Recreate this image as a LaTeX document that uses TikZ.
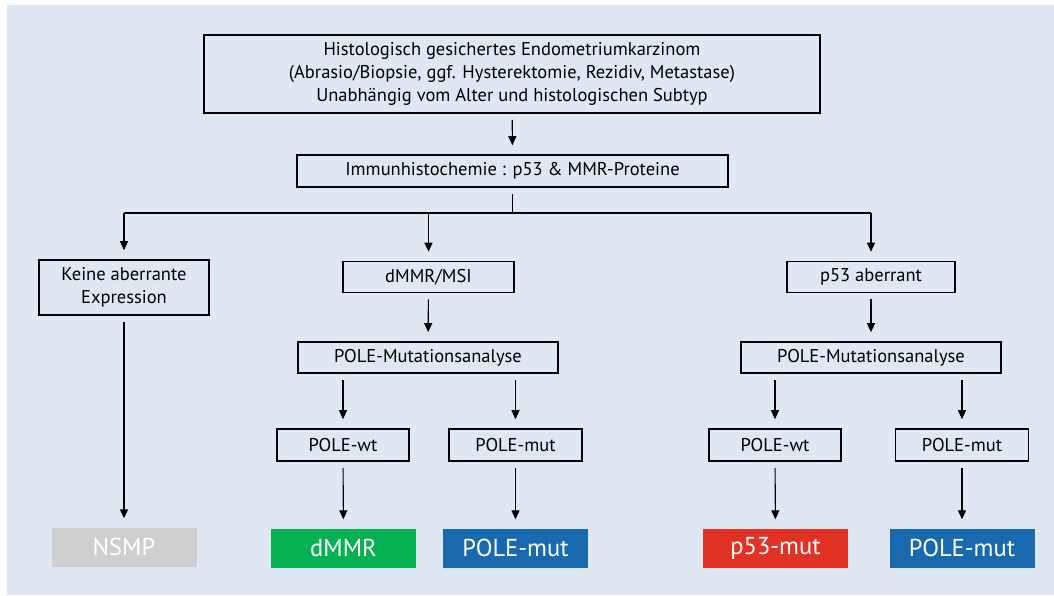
\documentclass[tikz,border=0pt]{standalone}
\usepackage{fontspec}
\setmainfont{PT Sans}
\usetikzlibrary{arrows.meta}
\definecolor{bgblue}{HTML}{DFE8F2}
\definecolor{resgreen}{HTML}{05B152}
\definecolor{resblue}{HTML}{1869AD}
\definecolor{resred}{HTML}{E03325}
\definecolor{resgrey}{HTML}{CFCFCF}
\tikzset{
  box/.style={draw=black, line width=1.6pt, inner sep=0pt, align=center,
    font=\fontsize{18.5}{23}\selectfont},
  result/.style={inner sep=0pt, minimum width=145pt, minimum height=39pt,
    text=white, font=\fontsize{24.5}{26}\selectfont},
  conn/.style={line width=1.1pt, shorten <=6pt},
  arr/.style={conn, -{Triangle[width=8pt,length=9pt]}, shorten >=9pt},
}
\begin{document}
\begin{tikzpicture}[x=1pt, y=-1pt]
  \useasboundingbox (0,0) rectangle (1054,595);
  \fill[white] (0,0) rectangle (1054,595);
  \fill[bgblue] (7,5) rectangle (1054,595);
  % boxes
  \node[box, minimum width=616pt, minimum height=78pt] (top) at (512,74)
    {Histologisch gesichertes Endometriumkarzinom\\
     (Abrasio/Biopsie, ggf. Hysterektomie, Rezidiv, Metastase)\\
     Unabhängig vom Alter und histologischen Subtyp};
  \node[box, minimum width=431pt, minimum height=32pt] (ihc) at (512.5,171)
    {Immunhistochemie : p53 \& MMR-Proteine};
  \node[box, minimum width=170pt, minimum height=55pt] (kae) at (124,287.5)
    {Keine aberrante\\Expression};
  \node[box, minimum width=171pt, minimum height=31pt] (msi) at (428.5,277) {dMMR/MSI};
  \node[box, minimum width=168pt, minimum height=31pt] (p53) at (871,277) {p53 aberrant};
  \node[box, minimum width=260pt, minimum height=31pt] (polel) at (428,357.5) {POLE-Mutationsanalyse};
  \node[box, minimum width=260pt, minimum height=31pt] (poler) at (871,357.5) {POLE-Mutationsanalyse};
  \node[box, minimum width=132pt, minimum height=32pt] (wtl) at (343,445) {POLE-wt};
  \node[box, minimum width=133pt, minimum height=32pt] (mutl) at (515.5,445) {POLE-mut};
  \node[box, minimum width=132pt, minimum height=32pt] (wtr) at (775,445) {POLE-wt};
  \node[box, minimum width=133pt, minimum height=32pt] (mutr) at (962,445) {POLE-mut};
  % results
  \node[result, fill=resgrey] (nsmp) at (124,547) {NSMP};
  \node[result, fill=resgreen] (dmmr) at (343.5,548) {dMMR};
  \node[result, fill=resblue] (polemutl) at (515.5,548) {POLE-mut};
  \node[result, fill=resred] (p53mut) at (775.5,548) {p53-mut};
  \node[result, fill=resblue] (polemutr) at (962,548) {POLE-mut};
  \coordinate (split) at (512.5,213);
  \begin{scope}[-]
    \draw[arr] (top) -- (ihc);
    \draw[conn] (ihc) -- (split);
    \draw[line width=1.1pt] (split -| kae) -- (split -| p53);
    \draw[arr, shorten <=0pt] (split -| kae) -- (kae);
    \draw[arr, shorten <=0pt] (split -| msi) -- (msi);
    \draw[arr, shorten <=0pt] (split -| p53) -- (p53);
    \draw[arr] (kae) -- (nsmp);
    \draw[arr] (msi) -- (polel);
    \draw[arr] (p53) -- (poler);
    \draw[arr] (polel.south -| wtl) -- (wtl);
    \draw[arr] (polel.south -| mutl) -- (mutl);
    \draw[arr] (poler.south -| wtr) -- (wtr);
    \draw[arr] (poler.south -| mutr) -- (mutr);
    \draw[arr] (wtl) -- (dmmr);
    \draw[arr] (mutl) -- (polemutl);
    \draw[arr] (wtr) -- (p53mut);
    \draw[arr] (mutr) -- (polemutr);
  \end{scope}
\end{tikzpicture}
\end{document}
